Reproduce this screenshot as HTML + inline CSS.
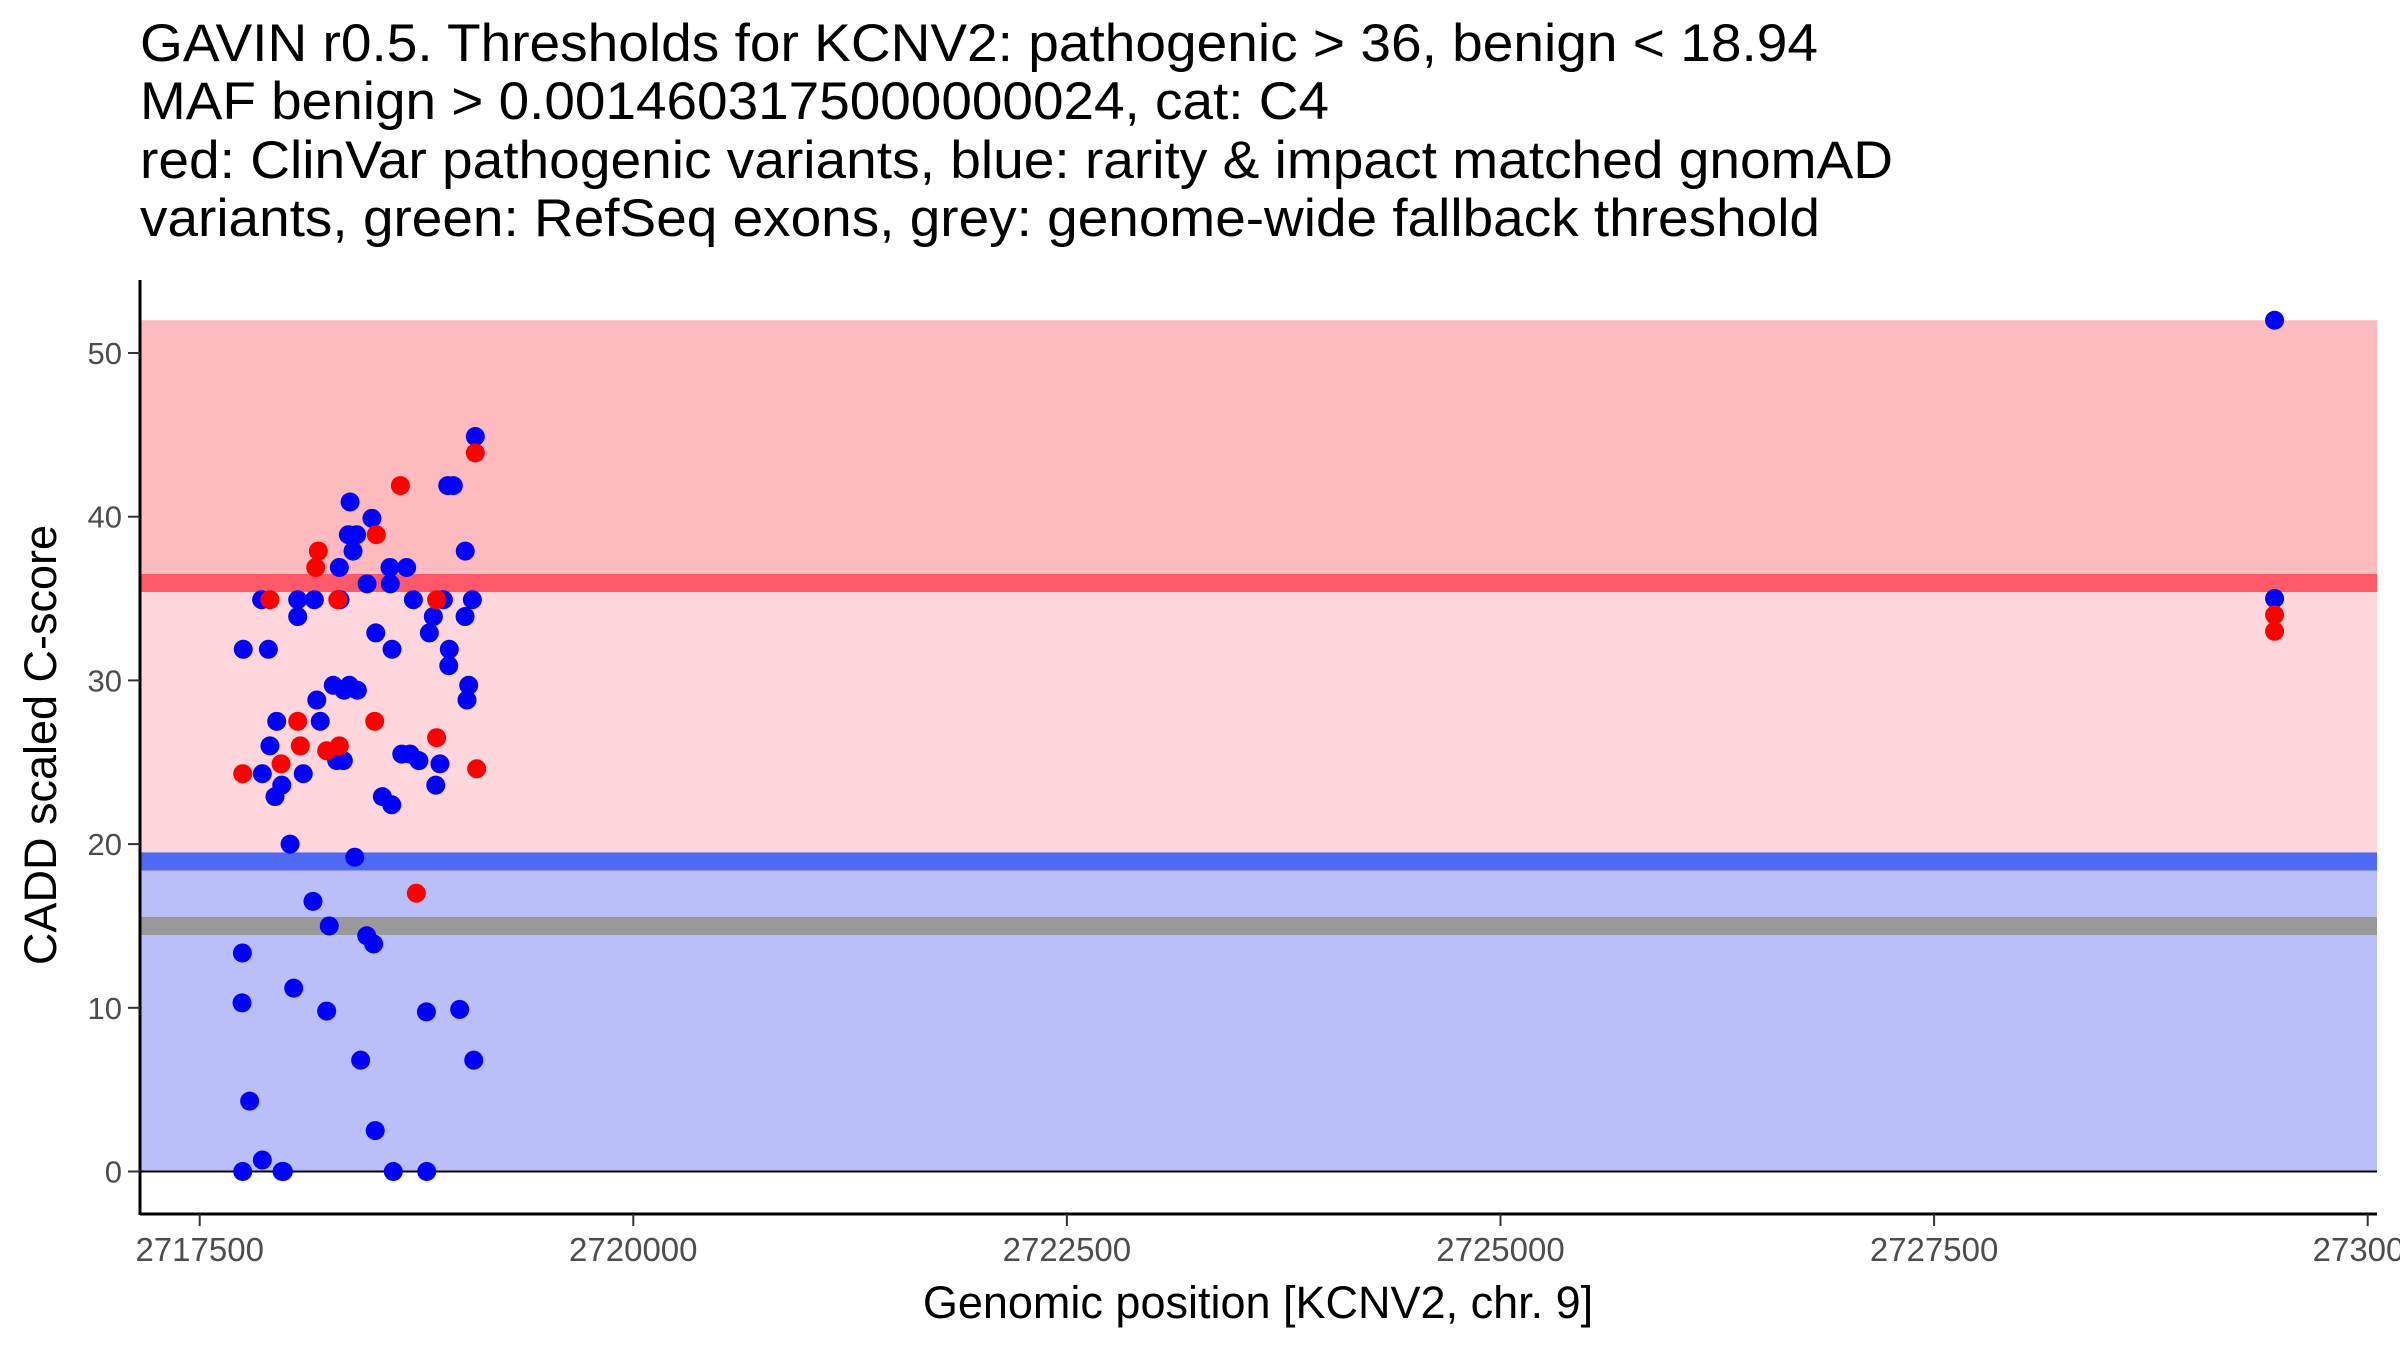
<!DOCTYPE html>
<html><head><meta charset="utf-8"><style>
html,body{margin:0;padding:0;background:#fff;}
svg{display:block;font-family:"Liberation Sans",Arial,sans-serif;}
</style></head><body>
<svg id="chart" width="2400" height="1350" viewBox="0 0 2400 1350" xmlns="http://www.w3.org/2000/svg">
<g font-size="53" fill="#000">
<text x="140" y="61" textLength="1678" lengthAdjust="spacingAndGlyphs">GAVIN r0.5. Thresholds for KCNV2: pathogenic &gt; 36, benign &lt; 18.94</text>
<text x="140" y="119" textLength="1189" lengthAdjust="spacingAndGlyphs">MAF benign &gt; 0.0014603175000000024, cat: C4</text>
<text x="140" y="178" textLength="1753" lengthAdjust="spacingAndGlyphs">red: ClinVar pathogenic variants, blue: rarity &amp; impact matched gnomAD</text>
<text x="140" y="236" textLength="1680" lengthAdjust="spacingAndGlyphs">variants, green: RefSeq exons, grey: genome-wide fallback threshold</text>
</g>
<g id="bands"></g>
<g id="yaxis"></g>
<g id="xaxis"></g>
<g id="pts-blue"></g>
<g id="pts-red"></g>
<text x="0" y="0" font-size="45" text-anchor="middle" transform="translate(56,745) rotate(-90)">CADD scaled C-score</text>
<text x="1258" y="1318" font-size="45" text-anchor="middle">Genomic position [KCNV2, chr. 9]</text>
</svg>
<script>
const xTicks = [2717500, 2720000, 2722500, 2725000, 2727500, 2730000];
const xTickLabels = ["2717500", "2720000", "2722500", "2725000", "2727500", "273000"];
const yTicks = [0, 10, 20, 30, 40, 50];
const pathogenicThreshold = 36;
const benignThreshold = 18.94;
const fallbackThreshold = 15;
const maxScore = 52;
const blueX = [2719089,2718930,2718962,2718367,2718493,2718357,2718405,2718384,2719031,2718305,2718597,2718693,2718465,2718599,
 2717857,2718065,2718161,2718309,2718732,2718905,2719072,2718065,2718847,2719030,2718515,2718824,2717751,2717896,2718609,2718939,
 2718936,2718270,2718363,2719051,2718332,2718409,2718175,2719041,2717944,2718195,2717905,2718665,2718713,2718328,2718764,2718290,
 2718885,2717861,2718097,2717973,2718861,2717934,2718553,2718607,2718021,2718394,2718153,2718247,2718463,2718503,2717746,2717744,
 2718042,2718232,2718807,2718999,2718428,2719080,2717788,2718512,2717861,2717748,2717975,2717982,2718616,2718809,2729463,2729463];
const blueY = [44.9,41.9,41.9,40.9,39.9,38.9,38.9,37.9,37.9,36.9,36.9,36.9,35.9,35.9,
 34.93,34.93,34.93,34.93,34.93,34.93,34.93,33.9,33.9,33.9,32.9,32.9,31.9,31.9,31.9,31.9,
 30.9,29.7,29.7,29.7,29.4,29.4,28.8,28.8,27.5,27.5,26.0,25.5,25.5,25.1,25.1,25.1,
 24.9,24.3,24.3,23.6,23.6,22.9,22.9,22.4,20.0,19.2,16.5,15.0,14.4,13.9,13.35,10.3,
 11.2,9.8,9.75,9.9,6.8,6.8,4.3,2.5,0.7,0,0,0,0,0,52,35];
const redX = [2719089,2718657,2718518,2718184,2718169,2717905,2718296,2718866,2718065,2718509,2718866,2718080,2718305,2718232,
 2717969,2719097,2717748,2718749,2729463,2729463];
const redY = [43.9,41.9,38.9,37.9,36.9,34.93,34.93,34.93,27.5,27.5,26.5,26.0,26.0,25.7,24.9,24.6,24.3,17.0,34,33];

const NS = "http://www.w3.org/2000/svg";
const X0 = 199.7, XK = 433.6/2500, Y0 = 1171.5, YK = 16.37;
const PL = 140, PR = 2377;
function sx(v){ return X0 + (v - 2717500) * XK; }
function sy(v){ return Y0 - v * YK; }
function mk(tag, attrs, parent){ const e = document.createElementNS(NS, tag); for (const k in attrs) e.setAttribute(k, attrs[k]); parent.appendChild(e); return e; }

const bands = document.getElementById('bands');
let r;
r = mk('rect', {x:PL, y:sy(maxScore), width:PR-PL, height:sy(pathogenicThreshold)-sy(maxScore), fill:'#fdbbc0'}, bands);


r = mk('rect', {x:PL, y:sy(pathogenicThreshold), width:PR-PL, height:sy(benignThreshold)-sy(pathogenicThreshold), fill:'#fed6db'}, bands);


r = mk('rect', {x:PL, y:sy(benignThreshold), width:PR-PL, height:sy(0)-sy(benignThreshold), fill:'#babffa'}, bands);


r = mk('rect', {x:PL, y:sy(pathogenicThreshold+0.5), width:PR-PL, height:YK*1.1, fill:'#fe5968'}, bands);


r = mk('rect', {x:PL, y:sy(benignThreshold+0.55), width:PR-PL, height:YK*1.1, fill:'#5069f5'}, bands);


r = mk('rect', {x:PL, y:sy(fallbackThreshold+0.55), width:PR-PL, height:YK*1.1, fill:'#999999'}, bands);


r = mk('line', {x1:PL, x2:PR, y1:sy(0), y2:sy(0), stroke:'#000', 'stroke-width':2}, bands);



const yax = document.getElementById('yaxis');
r = mk('line', {x1:PL, x2:PL, y1:280, y2:1215, stroke:'#000', 'stroke-width':3}, yax);


yTicks.forEach(v => {
  const t = mk('line', {x1:PL-12, x2:PL, y1:sy(v), y2:sy(v), stroke:'#333', 'stroke-width':2}, yax);
  
  
  const l = mk('text', {x:PL-18, y:sy(v)+11, 'font-size':31, 'text-anchor':'end', fill:'#4d4d4d'}, yax);
  l.textContent = String(v);
  
  
});
const xax = document.getElementById('xaxis');
r = mk('line', {x1:PL, x2:PR, y1:1214, y2:1214, stroke:'#000', 'stroke-width':3}, xax);


xTicks.forEach((v, i) => {
  const t = mk('line', {x1:sx(v), x2:sx(v), y1:1214, y2:1226, stroke:'#333', 'stroke-width':2}, xax);
  
  
  const l = mk('text', {x:sx(v), y:1261, 'font-size':33, 'text-anchor':'middle', fill:'#4d4d4d'}, xax);
  l.textContent = xTickLabels[i];
  
  
});
const gb = document.getElementById('pts-blue');
blueX.forEach((v, i) => {
  const c = mk('circle', {cx:sx(v), cy:sy(blueY[i]), r:9.5, fill:'#0000ff'}, gb);
  
  
});
const gr = document.getElementById('pts-red');
redX.forEach((v, i) => {
  const c = mk('circle', {cx:sx(v), cy:sy(redY[i]), r:9.5, fill:'#ff0000'}, gr);
  
  
});
</script>
</body></html>
